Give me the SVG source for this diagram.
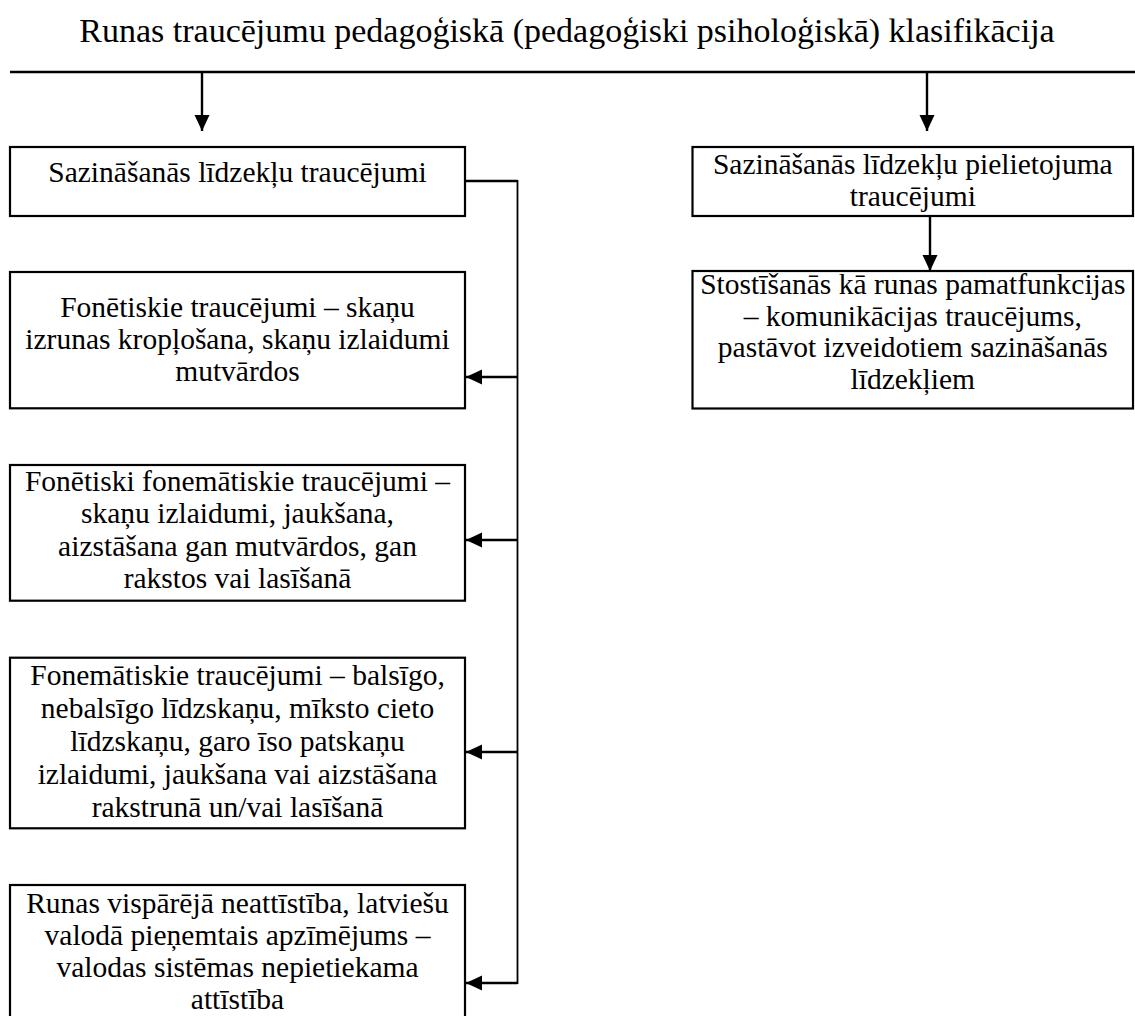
<svg xmlns="http://www.w3.org/2000/svg" width="1135" height="1016" viewBox="0 0 1135 1016">
<style>
text{font-family:"Liberation Serif","Times New Roman",serif;font-size:29.5px;fill:#000;text-anchor:middle}
.title{font-size:34px}
.box{fill:#fff;stroke:#000;stroke-width:2.2}
.ln{fill:none;stroke:#000;stroke-width:2.4}
.vl{fill:none;stroke:#000;stroke-width:1.8}
</style>
<defs>
<marker id="ah" markerUnits="userSpaceOnUse" markerWidth="16" markerHeight="16" viewBox="0 0 16 16" refX="16" refY="8" orient="auto">
<path d="M0,0.5 L16,8 L0,15.5 Z" fill="#000"/>
</marker>
</defs>
<rect width="1135" height="1016" fill="#fff"/>
<g id="title">
<text class="title" x="567" y="42">Runas traucējumu pedagoģiskā (pedagoģiski psiholoģiskā) klasifikācija</text>
</g>
<g id="connectors">
<line class="ln" x1="10" y1="72" x2="1135" y2="72"/>
<line class="ln" x1="202" y1="72" x2="202" y2="131" marker-end="url(#ah)"/>
<line class="ln" x1="927" y1="72" x2="927" y2="131" marker-end="url(#ah)"/>
<line class="ln" x1="930" y1="216" x2="930" y2="271" marker-end="url(#ah)"/>
<polyline class="ln" points="465,181 517.5,181"/>
<line class="vl" x1="517.5" y1="180" x2="517.5" y2="984"/>
<line class="ln" x1="517.5" y1="377" x2="466" y2="377" marker-end="url(#ah)"/>
<line class="ln" x1="517.5" y1="540" x2="466" y2="540" marker-end="url(#ah)"/>
<line class="ln" x1="517.5" y1="752" x2="466" y2="752" marker-end="url(#ah)"/>
<line class="ln" x1="517.5" y1="983" x2="466" y2="983" marker-end="url(#ah)"/>
</g>
<g id="node-l1">
<rect class="box" x="10" y="147" width="455" height="69"/>
<text x="237.5" y="182">Sazināšanās līdzekļu traucējumi</text>
</g>
<g id="node-r1">
<rect class="box" x="692.5" y="147" width="440.5" height="69"/>
<text x="912.8" y="174">Sazināšanās līdzekļu pielietojuma</text>
<text x="912.8" y="205.5">traucējumi</text>
</g>
<g id="node-r2">
<rect class="box" x="692.5" y="271" width="440.5" height="137.5"/>
<text x="912.8" y="294">Stostīšanās kā runas pamatfunkcijas</text>
<text x="912.8" y="325.5">– komunikācijas traucējums,</text>
<text x="912.8" y="357">pastāvot izveidotiem sazināšanās</text>
<text x="912.8" y="388.5">līdzekļiem</text>
</g>
<g id="node-l2">
<rect class="box" x="10" y="272" width="455" height="136.3"/>
<text x="237.5" y="317">Fonētiskie traucējumi – skaņu</text>
<text x="237.5" y="349">izrunas kropļošana, skaņu izlaidumi</text>
<text x="237.5" y="381">mutvārdos</text>
</g>
<g id="node-l3">
<rect class="box" x="10" y="465" width="455" height="135.7"/>
<text x="237.5" y="490.5">Fonētiski fonemātiskie traucējumi –</text>
<text x="237.5" y="523">skaņu izlaidumi, jaukšana,</text>
<text x="237.5" y="555.5">aizstāšana gan mutvārdos, gan</text>
<text x="237.5" y="588">rakstos vai lasīšanā</text>
</g>
<g id="node-l4">
<rect class="box" x="10" y="657.7" width="455" height="170.6"/>
<text x="237.5" y="685">Fonemātiskie traucējumi – balsīgo,</text>
<text x="237.5" y="718">nebalsīgo līdzskaņu, mīksto cieto</text>
<text x="237.5" y="751">līdzskaņu, garo īso patskaņu</text>
<text x="237.5" y="784">izlaidumi, jaukšana vai aizstāšana</text>
<text x="237.5" y="817">rakstrunā un/vai lasīšanā</text>
</g>
<g id="node-l5">
<rect class="box" x="10" y="885" width="455" height="150"/>
<text x="237.5" y="913">Runas vispārējā neattīstība, latviešu</text>
<text x="237.5" y="945">valodā pieņemtais apzīmējums –</text>
<text x="237.5" y="977">valodas sistēmas nepietiekama</text>
<text x="237.5" y="1009">attīstība</text>
</g>
</svg>
